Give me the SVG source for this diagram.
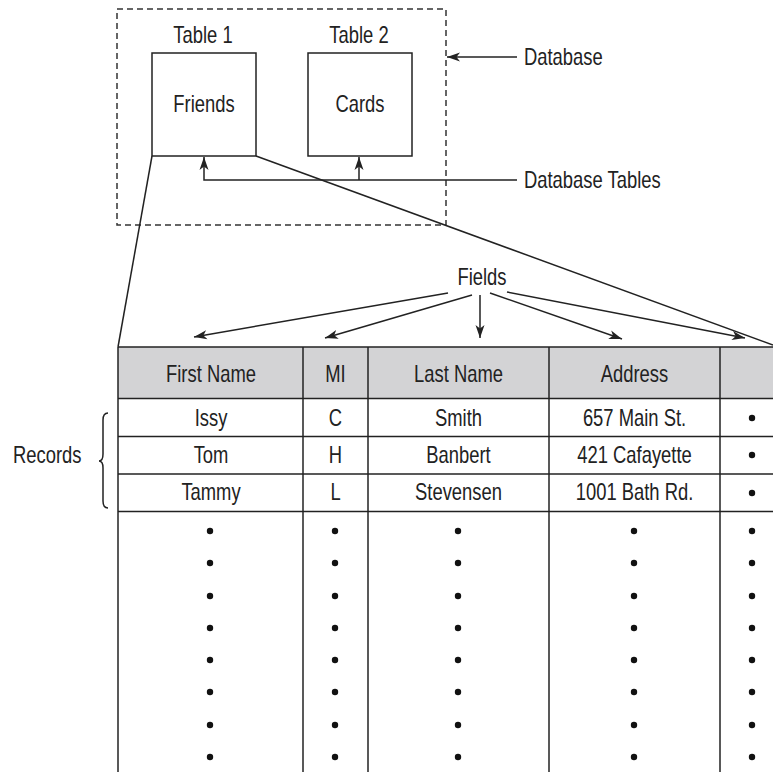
<svg xmlns="http://www.w3.org/2000/svg" width="773" height="772" viewBox="0 0 773 772">
<defs>
<style>
text{font-family:"Liberation Sans",Arial,sans-serif;font-size:23px;fill:#222}
.c{text-anchor:middle}
.ln{stroke:#222;stroke-width:1.5;fill:none}
.box{stroke:#222;stroke-width:1.5;fill:#fff}
.dash{stroke:#333;stroke-width:1.5;fill:none;stroke-dasharray:6,4}
.dot{fill:#111}
</style>
<marker id="ah" markerUnits="userSpaceOnUse" markerWidth="14" markerHeight="10" refX="13" refY="5" orient="auto">
<path d="M0,0.5 L13,5 L0,9.5 L3.5,5 z" fill="#222"/>
</marker>
</defs>
<rect width="773" height="772" fill="#fff"/>

<g id="database">
<rect class="dash" x="117" y="9" width="329" height="216"/>
</g>

<g id="table1">
<text class="c" transform="translate(203,43) scale(0.8,1)">Table 1</text>
<rect class="box" x="152" y="53" width="104" height="103"/>
<text class="c" transform="translate(204,112) scale(0.8,1)">Friends</text>
</g>

<g id="table2">
<text class="c" transform="translate(359,43) scale(0.8,1)">Table 2</text>
<rect class="box" x="308" y="53" width="104" height="103"/>
<text class="c" transform="translate(360,112) scale(0.8,1)">Cards</text>
</g>

<g id="labels">
<text transform="translate(524,65) scale(0.8,1)">Database</text>
<text transform="translate(524,188) scale(0.8,1)">Database Tables</text>
<text class="c" transform="translate(482,285) scale(0.8,1)">Fields</text>
<text transform="translate(13,463) scale(0.8,1)">Records</text>
<path class="ln" d="M108,413 Q103,413 103,420 L103,454 Q103,461 99,461 Q103,461 103,468 L103,501 Q103,508 108,508"/>
</g>

<g id="fields-table">
<rect x="118" y="347" width="655" height="51.5" fill="#d3d3d5"/>
<g class="ln">
<line x1="118" y1="347" x2="773" y2="347"/>
<line x1="118" y1="398.5" x2="773" y2="398.5"/>
<line x1="118" y1="436.5" x2="773" y2="436.5"/>
<line x1="118" y1="474" x2="773" y2="474"/>
<line x1="118" y1="511.5" x2="773" y2="511.5"/>
<line x1="118" y1="347" x2="118" y2="772"/>
<line x1="303" y1="347" x2="303" y2="772"/>
<line x1="368" y1="347" x2="368" y2="772"/>
<line x1="549" y1="347" x2="549" y2="772"/>
<line x1="720" y1="347" x2="720" y2="772"/>
</g>
<text class="c" transform="translate(211,382) scale(0.8,1)">First Name</text>
<text class="c" transform="translate(335.5,382) scale(0.8,1)">MI</text>
<text class="c" transform="translate(458.5,382) scale(0.8,1)">Last Name</text>
<text class="c" transform="translate(634.5,382) scale(0.8,1)">Address</text>

<text class="c" transform="translate(211,426) scale(0.8,1)">Issy</text>
<text class="c" transform="translate(335.5,426) scale(0.8,1)">C</text>
<text class="c" transform="translate(458.5,426) scale(0.8,1)">Smith</text>
<text class="c" transform="translate(634.5,426) scale(0.8,1)">657 Main St.</text>

<text class="c" transform="translate(211,463) scale(0.8,1)">Tom</text>
<text class="c" transform="translate(335.5,463) scale(0.8,1)">H</text>
<text class="c" transform="translate(458.5,463) scale(0.8,1)">Banbert</text>
<text class="c" transform="translate(634.5,463) scale(0.8,1)">421 Cafayette</text>

<text class="c" transform="translate(211,500) scale(0.8,1)">Tammy</text>
<text class="c" transform="translate(335.5,500) scale(0.8,1)">L</text>
<text class="c" transform="translate(458.5,500) scale(0.8,1)">Stevensen</text>
<text class="c" transform="translate(634.5,500) scale(0.8,1)">1001 Bath Rd.</text>

<g class="dot">
<circle cx="752" cy="418" r="3.2"/><circle cx="752" cy="455" r="3.2"/><circle cx="752" cy="493" r="3.2"/>
</g>
<g class="dot" id="ellipsis">
<circle cx="210" cy="531" r="3.2"/><circle cx="335" cy="531" r="3.2"/><circle cx="458" cy="531" r="3.2"/><circle cx="634" cy="531" r="3.2"/><circle cx="752" cy="531" r="3.2"/>
<circle cx="210" cy="563" r="3.2"/><circle cx="335" cy="563" r="3.2"/><circle cx="458" cy="563" r="3.2"/><circle cx="634" cy="563" r="3.2"/><circle cx="752" cy="563" r="3.2"/>
<circle cx="210" cy="596" r="3.2"/><circle cx="335" cy="596" r="3.2"/><circle cx="458" cy="596" r="3.2"/><circle cx="634" cy="596" r="3.2"/><circle cx="752" cy="596" r="3.2"/>
<circle cx="210" cy="628" r="3.2"/><circle cx="335" cy="628" r="3.2"/><circle cx="458" cy="628" r="3.2"/><circle cx="634" cy="628" r="3.2"/><circle cx="752" cy="628" r="3.2"/>
<circle cx="210" cy="660" r="3.2"/><circle cx="335" cy="660" r="3.2"/><circle cx="458" cy="660" r="3.2"/><circle cx="634" cy="660" r="3.2"/><circle cx="752" cy="660" r="3.2"/>
<circle cx="210" cy="692" r="3.2"/><circle cx="335" cy="692" r="3.2"/><circle cx="458" cy="692" r="3.2"/><circle cx="634" cy="692" r="3.2"/><circle cx="752" cy="692" r="3.2"/>
<circle cx="210" cy="725" r="3.2"/><circle cx="335" cy="725" r="3.2"/><circle cx="458" cy="725" r="3.2"/><circle cx="634" cy="725" r="3.2"/><circle cx="752" cy="725" r="3.2"/>
<circle cx="210" cy="757" r="3.2"/><circle cx="335" cy="757" r="3.2"/><circle cx="458" cy="757" r="3.2"/><circle cx="634" cy="757" r="3.2"/><circle cx="752" cy="757" r="3.2"/>
</g>
</g>

<g id="connectors" class="ln">
<line x1="517" y1="57" x2="447" y2="57" marker-end="url(#ah)"/>
<polyline points="517,180 204,180 204,157" marker-end="url(#ah)"/>
<line x1="359" y1="180" x2="359" y2="157" marker-end="url(#ah)"/>
<line x1="152" y1="156" x2="118" y2="347"/>
<line x1="256" y1="156" x2="773" y2="345"/>
<line x1="448" y1="293" x2="194" y2="337" marker-end="url(#ah)"/>
<line x1="472" y1="295" x2="325" y2="338" marker-end="url(#ah)"/>
<line x1="480" y1="295" x2="480" y2="338" marker-end="url(#ah)"/>
<line x1="490" y1="293" x2="622" y2="339" marker-end="url(#ah)"/>
<line x1="507" y1="292" x2="745" y2="338" marker-end="url(#ah)"/>
</g>
</svg>
